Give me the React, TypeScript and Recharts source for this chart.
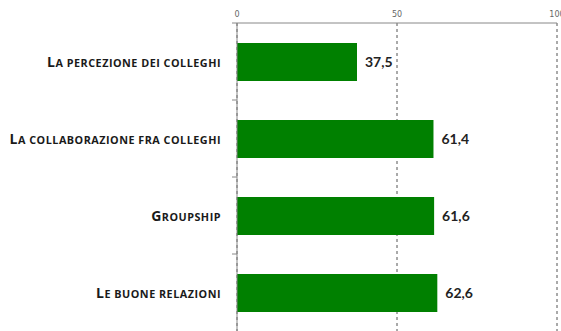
import { BarChart, Bar, XAxis, YAxis, CartesianGrid, LabelList } from 'recharts';

const categories = [
  'La percezione dei colleghi',
  'La collaborazione fra colleghi',
  'Groupship',
  'Le buone relazioni',
];
const scores = [37.5, 61.4, 61.6, 62.6];
const xTicks = [0, 50, 100];

const data = categories.map((name, i) => ({ name, score: scores[i] }));

// small caps by hand: capital letters big, the rest upper-cased and smaller
function smallCaps(text: string) {
  const parts: { t: string; big: boolean }[] = [];
  for (const ch of text) {
    const big = ch !== ' ' && ch === ch.toUpperCase();
    const last = parts[parts.length - 1];
    if (last && last.big === big) last.t += ch.toUpperCase();
    else parts.push({ t: ch.toUpperCase(), big });
  }
  return parts;
}

function CategoryTick(props: any) {
  const { x, y, payload } = props;
  const half = payload.offset || 0;
  return (
    <g>
      <line x1={x + 11} x2={x + 16} y1={y - half} y2={y - half} stroke="#888" />
      <text
        x={x}
        y={y}
        dy={5}
        textAnchor="end"
        fill="#1a1a1a"
        style={{ fontFamily: 'Open Sans', fontWeight: 700, letterSpacing: 0.5 }}
      >
        {smallCaps(payload.value).map((p, i) => (
          <tspan key={i} fontSize={p.big ? 14 : 10.8}>
            {p.t}
          </tspan>
        ))}
      </text>
    </g>
  );
}

export default function App() {
  return (
    <div style={{ position: 'absolute', left: 0, top: 0, background: '#fff' }}>
      <BarChart
        width={561}
        height={331}
        data={data}
        layout="vertical"
        margin={{ top: 0, right: 4, left: 0, bottom: 0 }}
        barCategoryGap="25%"
      >
        <CartesianGrid horizontal={false} stroke="#555" strokeDasharray="3 3" />
        <XAxis
          type="number"
          orientation="top"
          domain={[0, 100]}
          ticks={xTicks}
          interval={0}
          height={23}
          tickLine={false}
          tickSize={3}
          tickMargin={3}
          axisLine={{ stroke: '#888' }}
          tick={{ fill: '#666', fontSize: 8, fontFamily: 'DejaVu Sans' }}
        />
        <YAxis
          type="category"
          dataKey="name"
          width={237}
          tickLine={false}
          tickSize={0}
          tickMargin={16}
          axisLine={{ stroke: '#888' }}
          tick={<CategoryTick />}
          interval={0}
        />
        <Bar dataKey="score" fill="#008000" barSize={38} isAnimationActive={false}>
          <LabelList
            dataKey="score"
            position="right"
            offset={8}
            formatter={(v: any) => String(v).replace('.', ',')}
            style={{ fontFamily: 'Lato', fontWeight: 700, fontSize: 14, fill: '#222' }}
          />
        </Bar>
      </BarChart>
    </div>
  );
}
